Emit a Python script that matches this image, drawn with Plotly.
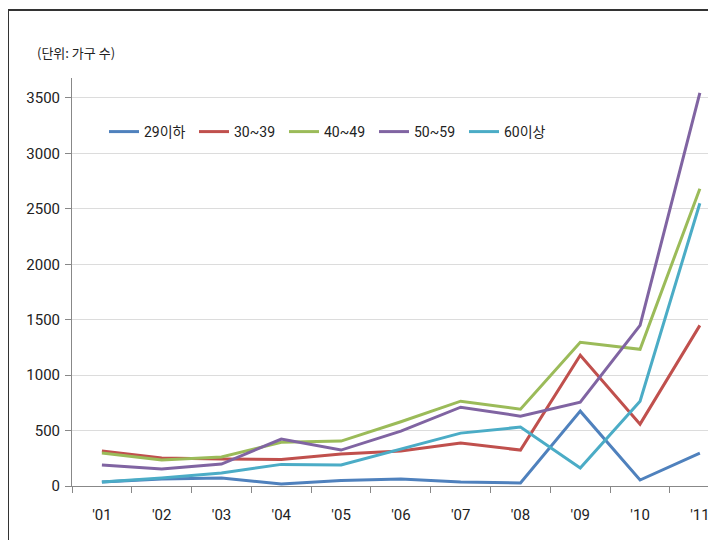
import plotly.graph_objects as go

years = ["'01", "'02", "'03", "'04", "'05", "'06", "'07", "'08", "'09", "'10", "'11"]
series_names = ["29이하", "30~39", "40~49", "50~59", "60이상"]
v_29 = [36, 63, 72, 18, 50, 63, 36, 27, 675, 54, 297]
v_30 = [315, 252, 243, 240, 288, 315, 387, 324, 1179, 558, 1449]
v_40 = [297, 234, 261, 395, 405, 580, 765, 693, 1296, 1233, 2682]
v_50 = [189, 153, 198, 423, 324, 495, 711, 630, 756, 1449, 3546]
v_60 = [36, 72, 117, 195, 190, 330, 477, 531, 162, 765, 2550]
colors = ["#4F81BD", "#C0504D", "#9BBB59", "#8064A2", "#4BACC6"]
y_ticks = [0, 500, 1000, 1500, 2000, 2500, 3000, 3500]

NARROW = "Roboto, Noto Sans CJK KR, sans-serif"
KFONT = "Noto Sans CJK KR, sans-serif"

fig = go.Figure()
for name, vals, col in zip(series_names, [v_29, v_30, v_40, v_50, v_60], colors):
    fig.add_trace(go.Scatter(x=years, y=vals, mode="lines", name=name,
                             line=dict(color=col, width=3)))

# page has an 8px body margin; figure coordinates = page coordinates - 8
OFF = 8
W, H = 716 - OFF, 540 - OFF
L = 72 - OFF
T = 78 - OFF
B = H - (486 - OFF)
pw = W - L
ph = H - T - B

fig.update_layout(
    width=W, height=H,
    margin=dict(l=L, r=0, t=T, b=B, pad=0, autoexpand=False),
    plot_bgcolor="white", paper_bgcolor="white",
    showlegend=True,
    legend=dict(orientation="h", x=(104 - 72) / pw, y=(486 - 132) / ph, yanchor="middle",
                xanchor="left", entrywidth=45, entrywidthmode="pixels",
                font=dict(family=NARROW, size=14, color="#222"),
                bgcolor="rgba(0,0,0,0)"),
    xaxis=dict(type="category", range=[-0.5, 10.27], tickson="boundaries",
               ticks="outside", ticklen=6, tickcolor="#888", showgrid=False,
               showline=True, linecolor="#888", linewidth=1, automargin=False,
               tickfont=dict(family=NARROW, size=15, color="#222"),
               ticklabelstandoff=15),
    yaxis=dict(range=[0, 3680], tickvals=y_ticks, ticks="outside", ticklen=6,
               tickcolor="#888", showgrid=True, gridcolor="#DCDCDC", gridwidth=1,
               showline=True, linecolor="#888", linewidth=1, zeroline=True,
               zerolinecolor="#888", zerolinewidth=1, automargin=False,
               tickfont=dict(family=NARROW, size=15, color="#222"),
               ticklabelstandoff=2),
    annotations=[dict(text="(단위: 가구 수)", xref="paper", yref="paper",
                      x=(35 - 72) / pw, y=(486 - 52) / ph, xanchor="left", yanchor="middle",
                      showarrow=False, font=dict(family=KFONT, size=13, color="#222"))],
    shapes=[dict(type="rect", xref="paper", yref="paper",
                 x0=(8 - 72) / pw, x1=(730 - 72) / pw,
                 y0=(486 - 560) / ph, y1=(486 - 10) / ph,
                 line=dict(color="#333", width=2), fillcolor="rgba(0,0,0,0)", layer="below")],
)

fig.write_html("out.html")
